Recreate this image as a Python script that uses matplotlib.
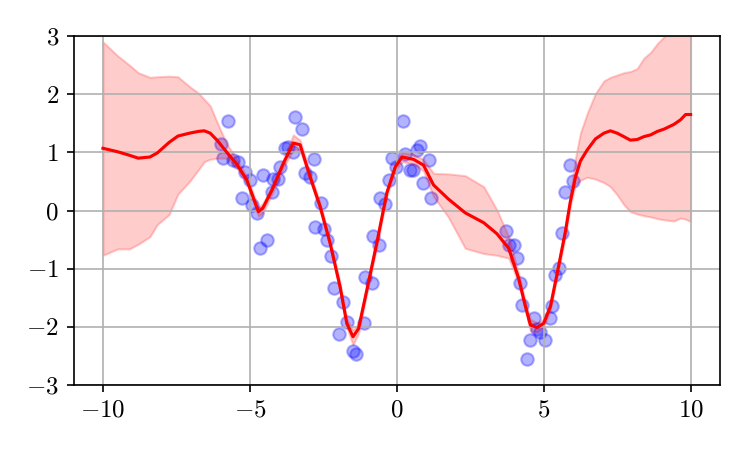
import numpy as np
import matplotlib
matplotlib.use("Agg")
import matplotlib.pyplot as plt

plt.rcParams["font.family"] = "serif"
plt.rcParams["font.serif"] = ["cmr10"]
plt.rcParams["mathtext.fontset"] = "cm"
plt.rcParams["axes.formatter.use_mathtext"] = True
plt.rcParams["font.size"] = 12

x_obs = [-5.75, -5.99, -5.90, -5.56, -5.39, -5.16, -4.99, -5.27, -4.93, -4.76,
         -4.56, -4.65, -4.40, -4.25, -4.20, -4.03, -3.97, -3.80, -3.69, -3.46,
         -3.52, -3.23, -2.83, -3.12, -2.97, -2.58, -2.78, -2.47, -2.36, -2.24,
         -2.13, -1.83, -1.70, -1.98, -1.49, -1.38, -1.13, -1.07, -0.85, -0.81,
         -0.59, -0.56, -0.39, -0.28, -0.16, -0.02, 0.21, 0.29, 0.44, 0.55,
         0.69, 0.80, 1.08, 0.89, 1.16, 3.73, 3.81, 3.98, 4.10, 4.21,
         4.27, 4.68, 4.78, 4.55, 4.44, 4.87, 5.03, 5.21, 5.29, 5.40,
         5.51, 5.63, 5.74, 6.00, 5.89]
y_obs = [1.54, 1.14, 0.91, 0.87, 0.84, 0.67, 0.52, 0.21, 0.09, -0.04,
         0.61, -0.65, -0.51, 0.32, 0.55, 0.55, 0.75, 1.07, 1.10, 1.61,
         1.01, 1.40, 0.88, 0.64, 0.58, 0.13, -0.29, -0.32, -0.51, -0.79,
         -1.33, -1.58, -1.91, -2.13, -2.41, -2.46, -1.94, -1.14, -1.25, -0.44,
         -0.59, 0.21, 0.12, 0.52, 0.90, 0.75, 1.54, 0.98, 0.70, 0.70,
         1.04, 1.11, 0.87, 0.48, 0.21, -0.36, -0.59, -0.59, -0.81, -1.25,
         -1.62, -1.85, -2.03, -2.23, -2.56, -2.08, -2.23, -1.84, -1.64, -1.11,
         -0.98, -0.38, 0.31, 0.51, 0.79]

# predictive mean and confidence band
x_pred = [-10.0, -9.5, -9.1, -8.8, -8.4, -8.15, -7.75, -7.45, -7.05, -6.75,
          -6.55, -6.35, -6.1, -5.8, -5.45, -5.1, -4.71, -4.56, -4.25, -3.86,
          -3.52, -3.29, -2.95, -2.61, -2.27, -1.93, -1.70, -1.49, -1.30, -1.02,
          -0.68, -0.34, -0.05, 0.18, 0.57, 0.91, 1.25, 1.75, 2.33, 2.96,
          3.41, 3.81, 4.15, 4.38, 4.55, 4.78, 5.00, 5.23, 5.46, 5.74,
          5.91, 6.08, 6.25, 6.48, 6.76, 7.05, 7.27, 7.50, 7.73, 7.95,
          8.18, 8.41, 8.64, 8.87, 9.10, 9.43, 9.66, 9.83, 10.0]
y_mean = [1.07, 1.01, 0.95, 0.90, 0.92, 0.99, 1.17, 1.28, 1.33, 1.36,
          1.37, 1.33, 1.20, 1.01, 0.80, 0.52, -0.02, 0.04, 0.35, 0.81,
          1.16, 1.13, 0.58, 0.07, -0.56, -1.31, -1.94, -2.17, -2.03, -1.37,
          -0.56, 0.30, 0.75, 0.92, 0.88, 0.78, 0.44, 0.20, -0.04, -0.21,
          -0.40, -0.65, -1.17, -1.65, -1.97, -2.01, -1.94, -1.65, -1.08, -0.36,
          0.16, 0.57, 0.85, 1.04, 1.23, 1.33, 1.37, 1.33, 1.27, 1.21,
          1.22, 1.27, 1.30, 1.36, 1.40, 1.48, 1.56, 1.65, 1.65]
y_lower = [-0.77, -0.66, -0.66, -0.58, -0.45, -0.24, -0.07, 0.28, 0.50, 0.70,
           0.84, 0.88, 0.90, 0.90, 0.74, 0.46, -0.10, -0.04, 0.28, 0.74,
           1.04, 1.05, 0.52, 0.01, -0.62, -1.38, -2.01, -2.31, -2.11, -1.43,
           -0.62, 0.24, 0.69, 0.84, 0.80, 0.68, 0.24, -0.11, -0.65, -0.74,
           -0.77, -0.82, -1.25, -1.73, -2.07, -2.09, -2.01, -1.71, -1.14, -0.44,
           0.08, 0.45, 0.52, 0.57, 0.54, 0.48, 0.41, 0.27, 0.10, -0.02,
           -0.06, -0.09, -0.11, -0.14, -0.16, -0.18, -0.13, -0.15, -0.19]
y_upper = [2.90, 2.66, 2.50, 2.37, 2.29, 2.30, 2.31, 2.30, 2.13, 2.02,
           1.91, 1.80, 1.50, 1.16, 0.88, 0.58, 0.06, 0.12, 0.42, 0.88,
           1.30, 1.21, 0.64, 0.13, -0.50, -1.24, -1.87, -2.05, -1.95, -1.31,
           -0.50, 0.36, 0.81, 1.00, 0.96, 0.88, 0.64, 0.63, 0.60, 0.41,
           0.01, -0.45, -1.09, -1.57, -1.87, -1.93, -1.87, -1.59, -1.02, -0.28,
           0.26, 0.90, 1.33, 1.67, 2.01, 2.23, 2.29, 2.33, 2.37, 2.39,
           2.44, 2.62, 2.72, 2.87, 2.99, 3.14, 3.25, 3.45, 3.49]

x_ticks = [-10, -5, 0, 5, 10]
y_ticks = [-3, -2, -1, 0, 1, 2, 3]

fig = plt.figure(figsize=(747 / 150, 449 / 150), dpi=150)
ax = fig.add_axes([0.0985, 0.1425, 0.8653, 0.7773])

ax.scatter(x_obs, y_obs, c="b", alpha=0.3)
ax.plot(x_pred, y_mean, "r-", lw=1.5)
ax.fill_between(x_pred, y_lower, y_upper, color="r", alpha=0.2)

ax.set_xlim(-11, 11)
ax.set_ylim(-3, 3)
ax.set_xticks(x_ticks)
ax.set_yticks(y_ticks)
ax.grid(True)

fig.savefig("out.png", dpi=150)
